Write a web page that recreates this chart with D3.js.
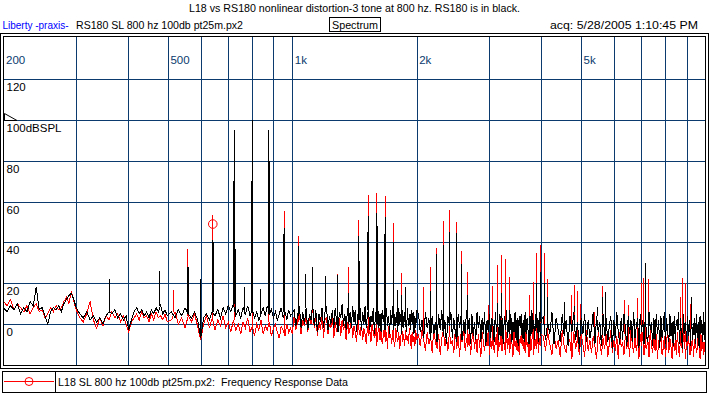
<!DOCTYPE html>
<html>
<head>
<meta charset="utf-8">
<script src="https://cdn.jsdelivr.net/npm/d3@7"></script>
<style>
body{margin:0;background:#fff;}
svg text{font-family:"Liberation Sans",Arial,sans-serif;font-size:11.5px;}
</style>
</head>
<body>
<div class="chart"></div>
<script>
// frequency grid of the noise floor (Hz)
var noiseFreq = [
 200,204,208,212,216,220,224,228,232,236,240,244,248,252,256,260,264,268,272,276,280,284,288,292,296,300,
 306,312,318,324,330,336,342,348,354,360,366,372,378,384,390,396,402,408,414,420,426,432,438,444,450,456,462,468,474,480,486,492,498,
 510,520,530,540,550,560,570,580,590,600,610,620,630,640,650,660,670,680,690,700,710,720,730,740,750,760,770,780,790,800,810,820,830,840,850,860,870,880,890,900,910,920,930,940,950,960,970,980,990,1000,
 1010,1020,1030,1040,1050,1060,1070,1080,1090,1100,1110,1120,1130,1140,1150,1160,1170,1180,1190,1200,
 1210,1220,1230,1240,1250,1260,1270,1280,1290,1300,1310,1320,1330,1340,1350,1360,1370,1380,1390,1400,
 1410,1420,1430,1440,1450,1460,1470,1480,1490,1500,1510,1520,1530,1540,1550,1560,1570,1580,1590,1600,
 1610,1620,1630,1640,1650,1660,1670,1680,1690,1700,1710,1720,1730,1740,1750,1760,1770,1780,1790,1800,
 1810,1820,1830,1840,1850,1860,1870,1880,1890,1900,1910,1920,1930,1940,1950,1960,1970,1980,1990,2000,
 2020,2040,2060,2080,2100,2120,2140,2160,2180,2200,2220,2240,2260,2280,2300,2320,2340,2360,2380,2400,
 2420,2440,2460,2480,2500,2520,2540,2560,2580,2600,2620,2640,2660,2680,2700,2720,2740,2760,2780,2800,
 2820,2840,2860,2880,2900,2920,2940,2960,2980,3000,3020,3040,3060,3080,3100,3120,3140,3160,3180,3200,
 3220,3240,3260,3280,3300,3320,3340,3360,3380,3400,3420,3440,3460,3480,3500,3520,3540,3560,3580,3600,
 3620,3640,3660,3680,3700,3720,3740,3760,3780,3800,3820,3840,3860,3880,3900,3920,3940,3960,3980,4000,
 4050,4100,4150,4200,4250,4300,4350,4400,4450,4500,4550,4600,4650,4700,4750,4800,4850,4900,4950,5000,
 5050,5100,5150,5200,5250,5300,5350,5400,5450,5500,5550,5600,5650,5700,5750,5800,5850,5900,5950,6000,
 6050,6100,6150,6200,6250,6300,6350,6400,6450,6500,6550,6600,6650,6700,6750,6800,6850,6900,6950,7000,
 7050,7100,7150,7200,7250,7300,7350,7400,7450,7500,7550,7600,7650,7700,7750,7800,7850,7900,7950,8000,
 8050,8100,8150,8200,8250,8300,8350,8400,8450,8500,8550,8600,8650,8700,8750,8800,8850,8900,8950,9000,
 9050,9100,9150,9200,9250,9300,9350,9400,9450,9500,9550,9600,9650,9700,9750,9800,9850,9900,9950,10000
];

// RS180 (black) noise floor, dB
var blackNoise = [
 8,6,9,7,10,5,8,6,11,9,18,7,8,4,0,6,8,7,9,6,10,12,14,15,12,8,
 5,3,6,2,4,1,3,0,4,6,5,7,3,5,2,4,-3,2,6,8,5,7,4,6,3,7,5,8,6,9,5,7,4,
 6,3,7,4,8,5,3,6,2,-7,3,5,2,6,4,7,3,8,5,9,6,10,4,7,3,8,5,9,4,7,3,6,2,5,8,4,9,5,7,3,6,2,5,8,3,6,2,7,4,5,
 7,-1,4,9,-2,6,0,8,-3,5, 2,10,-1,7,-4,5,1,8,-2,6, 9,-3,4,0,7,-2,8,1,-4,6, 3,10,-1,5,-3,8,0,6,-2,9,
 1,7,-4,5,2,8,-3,6,0,9, -2,5,7,-3,4,1,8,-5,6,0, 9,-2,5,-4,7,1,6,-3,8,-1, 4,-5,7,0,9,-3,5,-1,6,-4,
 8,0,5,-5,7,-2,6,1,-4,8, -1,5,-3,7,0,6,-5,4,-2,7,
 5,-4,2,-7,6,-2,3,-8,4,-5, 1,-9,5,-3,7,-6,2,-10,4,-1, 6,-7,3,-4,-9,5,-2,4,-8,2, -5,7,-3,3,-10,5,-6,1,-8,6,
 -2,4,-9,3,-5,6,-11,2,-4,5, -7,3,-1,-9,6,-4,2,-8,5,-6, 3,-10,4,-3,7,-7,2,-5,5,-9, 1,-4,6,-8,3,-11,4,-2,5,-7,
 2,-9,6,-5,3,-3,-10,4,-6,7, -4,2,-8,5,-2,3,-9,6,-6,1,
 4,-8,1,-5,6,-10,3,-3,-9,5, -6,2,-11,4,-4,6,-8,1,-12,3, -5,5,-9,2,-7,-2,6,-10,4,-4, 1,-11,5,-6,3,-9,-1,4,-12,2,
 -7,6,-4,-10,3,-8,5,-2,-11,4, -5,2,-9,6,-7,-1,3,-12,5,-4, 2,-10,4,-6,-9,6,-3,1,-11,3, -8,5,-5,2,-12,4,-7,-2,6,-10,
 3,-4,-9,5,-6,1,-11,4,-8,2, -3,6,-10,3,-7,-12,5,-5,1,-9, 4,-6,2,-11,6,-8,-3,3,-10,5, -7,1,-12,4,-5,2,-9,6,-8,-4
];

// L18 (red) noise floor, dB
var redNoise = [
 11,9,12,7,10,8,6,9,5,8,10,6,7,3,5,8,6,9,7,8,11,13,10,16,11,7,
 3,1,5,11,2,-2,3,-1,4,2,6,3,5,1,4,0,-4,1,3,5,2,6,3,4,1,5,2,6,3,4,2,5,1,
 2,6,0,3,-2,4,1,5,-1,-8,0,4,-2,3,-3,2,-1,4,-2,1,-4,2,-3,0,-5,1,-2,3,-4,-1,-6,0,-3,2,-5,-1,-3,1,-6,-2,0,-4,-7,-1,-3,-6,0,-4,-2,-5,
 4,-3,1,6,-5,2,-1,5,-4,3, 0,9,-2,4,-6,1,-3,6,-7,2, 3,-5,0,-2,5,-7,1,-4,-1,3, -6,2,-3,0,-8,1,-5,-2,3,-7,
 -1,-4,-9,0,-3,-6,1,-8,-2,-5, -10,-1,-6,-3,-9,0,-4,-7,-2,-11, -5,-1,-8,-3,-10,-6,-2,-9,-4,-12, -1,-7,-5,-10,-3,-8,-11,-2,-6,-9,
 -4,-12,-7,-1,-9,-5,-11,-3,-8,-6, -10,-2,-7,-12,-4,-9,-6,-11,-3,-8,
 -5,-11,-3,-8,-13,-4,-10,-6,-14,-2, -9,-12,-5,-15,-7,-3,-11,-6,-13,-4, -10,-8,-14,-3,-12,-6,-16,-5,-9,-2, -13,-7,-11,-4,-15,-8,-3,-12,-6,-14,
 -5,-10,-16,-4,-9,-13,-6,-11,-3,-15, -7,-12,-4,-14,-9,-5,-16,-8,-11,-3, -13,-6,-10,-15,-4,-12,-7,-14,-5,-9, -16,-3,-11,-8,-13,-5,-15,-6,-10,-4,
 -12,-7,-14,-3,-11,-9,-16,-5,-13,-8, -4,-15,-6,-10,-12,-3,-14,-7,-11,-5,
 -6,-13,-4,-10,-15,-5,-12,-8,-16,-3, -11,-14,-6,-9,-17,-4,-12,-7,-15,-5, -10,-16,-3,-13,-8,-14,-6,-11,-17,-4, -9,-15,-7,-12,-5,-16,-10,-3,-14,-8,
 -13,-6,-17,-4,-11,-9,-15,-5,-12,-7, -16,-3,-10,-14,-6,-13,-8,-17,-5,-11, -4,-15,-9,-12,-7,-16,-3,-11,-14,-6, -13,-5,-17,-8,-10,-4,-15,-12,-6,-16,
 -9,-3,-14,-7,-11,-17,-5,-13,-8,-15, -4,-12,-16,-6,-10,-14,-3,-9,-17,-7, -11,-5,-15,-8,-13,-4,-16,-10,-6,-14, -12,-3,-9,-17,-5,-13,-7,-15,-11,-6
];

// distortion / tone peaks
var blackPeakFreq = [361,477,558,600,642,723,728,765,799,839,878,955,1034,1078,1118,1202,1285,1366,1450,1527,1600,1670,1679,1756,1795,1836,1877,2162,2236,2320,2399,2490,2570,2658,3135,3213,3360,3904,3992,4073,4151,4546,4814,5473,5628,5723,7147,9240];
var blackPeakDb = [22,26,28,22,41,95,37,18,100,17,95,47,38,24.5,28,23.5,24,15,43,53,54.6,17.5,52.6,40,16.7,14.2,18.3,16.3,34.3,38.6,45.3,44.5,29.4,14.2,10.1,15,6.9,20,25.6,20,13.4,10.6,8.8,8.5,13.4,15.8,30.1,13.4];
var blackShoulderFreq = [558,642,723,799,878,955,1450,1527,1600,1679];
var blackShoulderDb = [28,40,70,70,80,44,31,45,48,44];

var redPeakFreq = [515,558,642,723,799,878,955,1034,1285,1366,1450,1527,1600,1679,1756,1836,2075,2162,2236,2320,2399,2490,2570,2658,2982,3053,3135,3213,3286,3360,3746,3831,3904,3992,4073,4151,4734,4814,4906,4978,5382,5628,6384,6502,6863,7017,7096,7175,7268,8690,8788,8921,9173];
var redPeakDb = [16.7,37,53.5,90,96,90,55.4,43.2,24.5,27.8,51,63.3,64.4,62.8,49.4,24.8,18,27.8,37.1,50.5,55.9,50,36,25.6,9.3,18.6,28.9,33.8,31.9,23,14.2,20.6,35,38.6,35,21.9,14.2,19.1,16.3,9.8,5.9,18.6,11.8,9.3,12.6,20.3,22.4,29.8,21.9,13.4,22.4,20.3,9.8];

// cursor marker on the red curve
var markerFreq = 642;
var markerDb = 49;
var refLevel = 100;

// axes
var xGridFreq = [300,400,500,600,700,800,900,1000,2000,3000,4000,5000,6000,7000,8000,9000];
var xLabelFreq = [200,500,1000,2000,5000];
var xLabelText = ["200","500","1k","2k","5k"];
var yGridDb = [120,100,80,60,40,20,0];
var yLabelText = ["120","100dBSPL","80","60","40","20","0"];

var gridColor = "#0a3a6e";

drawChart();

function drawChart(){
    var w = 709;
    var h = 395;
    var svg = d3.select(".chart")
    .append("svg")
    .attr("width", w)
    .attr("height", h);

    var x = d3.scaleLog().domain([200, 10000]).range([3.5, 705.5]);
    var y = d3.scaleLinear().domain([-20, 140]).range([364.8, 38.4]);

    //title and header line
    svg.append("text").attr("x", 354.5).attr("y", 12).attr("text-anchor", "middle")
    .attr("textLength", 331).attr("lengthAdjust", "spacingAndGlyphs")
    .text("L18 vs RS180 nonlinear distortion-3 tone at 800 hz. RS180 is in black.");
    svg.append("text").attr("x", 2.5).attr("y", 29).attr("fill", "#0000ff")
    .attr("textLength", 66).attr("lengthAdjust", "spacingAndGlyphs").text("Liberty -praxis-");
    svg.append("text").attr("x", 76).attr("y", 29)
    .attr("textLength", 167).attr("lengthAdjust", "spacingAndGlyphs").text("RS180 SL 800 hz 100db pt25m.px2");
    svg.append("rect").attr("x", 329.5).attr("y", 17.5).attr("width", 51).attr("height", 14)
    .attr("fill", "none").attr("stroke", "#000");
    svg.append("text").attr("x", 332).attr("y", 29)
    .attr("textLength", 46).attr("lengthAdjust", "spacingAndGlyphs").text("Spectrum");
    svg.append("text").attr("x", 550).attr("y", 29)
    .attr("textLength", 148).attr("lengthAdjust", "spacingAndGlyphs").text("acq: 5/28/2005 1:10:45 PM");

    //grid
    var grid = svg.append("g").attr("shape-rendering", "crispEdges").attr("stroke", gridColor).attr("stroke-width", 1);
    grid.selectAll(".vx").data(xGridFreq).enter().append("line")
    .attr("x1", function(d){ return Math.round(x(d)) + 0.5; })
    .attr("x2", function(d){ return Math.round(x(d)) + 0.5; })
    .attr("y1", 36).attr("y2", 365);
    grid.selectAll(".hy").data(yGridDb).enter().append("line")
    .attr("y1", function(d){ return Math.round(y(d)) + 0.5; })
    .attr("y2", function(d){ return Math.round(y(d)) + 0.5; })
    .attr("x1", 3).attr("x2", 706);

    //axis labels
    svg.selectAll(".xl").data(xLabelFreq).enter().append("text")
    .attr("x", function(d){ return x(d) + 2.5; })
    .attr("y", 64)
    .attr("fill", gridColor)
    .text(function(d, i){ return xLabelText[i]; });
    svg.selectAll(".yl").data(yGridDb).enter().append("text")
    .attr("x", 6.5)
    .attr("y", function(d){ return Math.round(y(d)) + 12; })
    .text(function(d, i){ return yLabelText[i]; });

    //reference level triangle
    var ry = Math.round(y(refLevel)) + 0.5;
    svg.append("path")
    .attr("d", "M4.5," + (ry - 7) + "L4.5," + ry + "L17," + ry + "Z")
    .attr("fill", "none").attr("stroke", "#000").attr("stroke-width", 1);

    //data
    svg.append("clipPath").attr("id", "plotclip").append("rect")
    .attr("x", 4).attr("y", 37).attr("width", 701).attr("height", 328);
    var plot = svg.append("g").attr("clip-path", "url(#plotclip)").attr("shape-rendering", "crispEdges");

    var line = d3.line()
    .x(function(d){ return x(d[0]); })
    .y(function(d){ return y(d[1]); });

    drawSeries(plot, x, y, line, redNoise, redPeakFreq, redPeakDb, [], [], "#ff0000");
    drawSeries(plot, x, y, line, blackNoise, blackPeakFreq, blackPeakDb, blackShoulderFreq, blackShoulderDb, "#000000");

    plot.append("circle")
    .attr("cx", x(markerFreq)).attr("cy", y(markerDb)).attr("r", 4.3)
    .attr("fill", "none").attr("stroke", "#ff0000").attr("stroke-width", 1)
    .attr("shape-rendering", "auto");

    //frame
    var frame = svg.append("g").attr("fill", "none").attr("stroke", "#000").attr("shape-rendering", "crispEdges");
    frame.append("rect").attr("x", 0.5).attr("y", 33.5).attr("width", 708).attr("height", 335);
    frame.append("rect").attr("x", 3.5).attr("y", 36.5).attr("width", 702).attr("height", 329);

    //legend
    var leg = svg.append("g");
    leg.append("rect").attr("x", 2.5).attr("y", 371.5).attr("width", 704).attr("height", 21)
    .attr("fill", "none").attr("stroke", "#000").attr("shape-rendering", "crispEdges");
    leg.append("line").attr("x1", 55.5).attr("x2", 55.5).attr("y1", 371.5).attr("y2", 392.5)
    .attr("stroke", "#000").attr("shape-rendering", "crispEdges");
    leg.append("line").attr("x1", 4).attr("x2", 54).attr("y1", 381.5).attr("y2", 381.5)
    .attr("stroke", "#ff0000").attr("shape-rendering", "crispEdges");
    leg.append("circle").attr("cx", 29).attr("cy", 381.5).attr("r", 4)
    .attr("fill", "none").attr("stroke", "#ff0000");
    leg.append("text").attr("x", 58).attr("y", 386)
    .style("white-space", "pre")
    .attr("textLength", 290).attr("lengthAdjust", "spacingAndGlyphs")
    .text("L18 SL 800 hz 100db pt25m.px2:  Frequency Response Data");
}

function drawSeries(g, x, y, line, noise, pf, pdb, sf, sdb, color){
    var pts = d3.zip(noiseFreq, noise);
    g.append("path")
    .attr("d", line(pts))
    .attr("fill", "none")
    .attr("stroke", color)
    .attr("stroke-width", 1);

    //peak stems rise from the local noise floor
    var bis = d3.bisector(function(d){ return d; });
    function base(f){ return noise[bis.center(noiseFreq, f)]; }

    g.selectAll(null).data(d3.zip(sf, sdb)).enter().append("line")
    .attr("x1", function(d){ return x(d[0]); })
    .attr("x2", function(d){ return x(d[0]); })
    .attr("y1", function(d){ return y(base(d[0])); })
    .attr("y2", function(d){ return y(d[1]); })
    .attr("stroke", color).attr("stroke-width", 2);

    g.selectAll(null).data(d3.zip(pf, pdb)).enter().append("line")
    .attr("x1", function(d){ return x(d[0]); })
    .attr("x2", function(d){ return x(d[0]); })
    .attr("y1", function(d){ return y(base(d[0])); })
    .attr("y2", function(d){ return y(d[1]); })
    .attr("stroke", color).attr("stroke-width", 1);
}
</script>
</body>
</html>
